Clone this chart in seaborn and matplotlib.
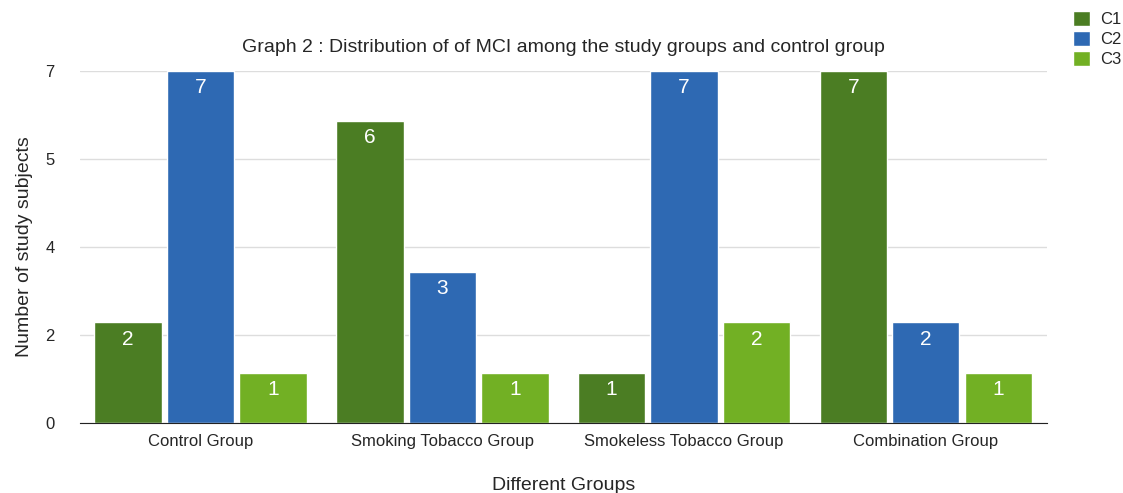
import numpy as np
import pandas as pd
import seaborn as sns
import matplotlib.pyplot as plt

# data
groups = ['Control Group', 'Smoking Tobacco Group', 'Smokeless Tobacco Group', 'Combination Group']
c1 = [2, 6, 1, 7]
c2 = [7, 3, 7, 2]
c3 = [1, 1, 2, 1]
series = ['C1', 'C2', 'C3']

df = pd.DataFrame({'Group': groups * 3,
                   'Class': ['C1'] * 4 + ['C2'] * 4 + ['C3'] * 4,
                   'Count': c1 + c2 + c3})

sns.set_style('white')
plt.rcParams['font.family'] = ['Liberation Sans', 'DejaVu Sans']

fig = plt.figure(figsize=(11.23, 4.93), dpi=100)
ax = fig.add_axes([0.071, 0.142, 0.861, 0.714])

palette = {'C1': '#4B7D23', 'C2': '#2E69B3', 'C3': '#72B024'}
sns.barplot(x='Group', y='Count', hue='Class', data=df, palette=palette,
            width=0.9, gap=0.07, saturation=1, ax=ax, zorder=2)

# white value labels just inside the top of each bar
for cont in ax.containers:
    for bar in cont:
        h = bar.get_height()
        ax.text(bar.get_x() + bar.get_width() / 2, h - 0.33, f'{h:.0f}',
                ha='center', va='center', color='white', fontsize=15, zorder=3)

ticks = np.linspace(0, 7, 5)
ax.set_yticks(ticks)
ax.set_yticklabels([f'{t:.0f}' for t in ticks], fontsize=12)
ax.set_ylim(0, 7)
ax.set_xlim(-0.5, 3.5)
ax.yaxis.grid(True, color='#dddddd', linewidth=1, zorder=0)
ax.tick_params(axis='x', labelsize=12, length=0, pad=8)
ax.tick_params(axis='y', length=0, pad=18)
for s in ['top', 'right', 'left']:
    ax.spines[s].set_visible(False)
ax.spines['bottom'].set_color('#222222')

ax.set_xlabel('Different Groups', fontsize=14, labelpad=20)
ax.set_ylabel('Number of study subjects', fontsize=14, labelpad=9)
ax.set_title('Graph 2 : Distribution of of MCI among the study groups and control group',
             fontsize=14, pad=14)

ax.get_legend().remove()
handles, labels = ax.get_legend_handles_labels()
fig.legend(handles, labels, loc='upper left', bbox_to_anchor=(1073 / 1123, 1 - 11 / 493),
           frameon=False, fontsize=12, handlelength=1.0, handleheight=1.0,
           handletextpad=0.6, labelspacing=0.22, borderaxespad=0, borderpad=0)

fig.savefig('out.png', dpi=100)
